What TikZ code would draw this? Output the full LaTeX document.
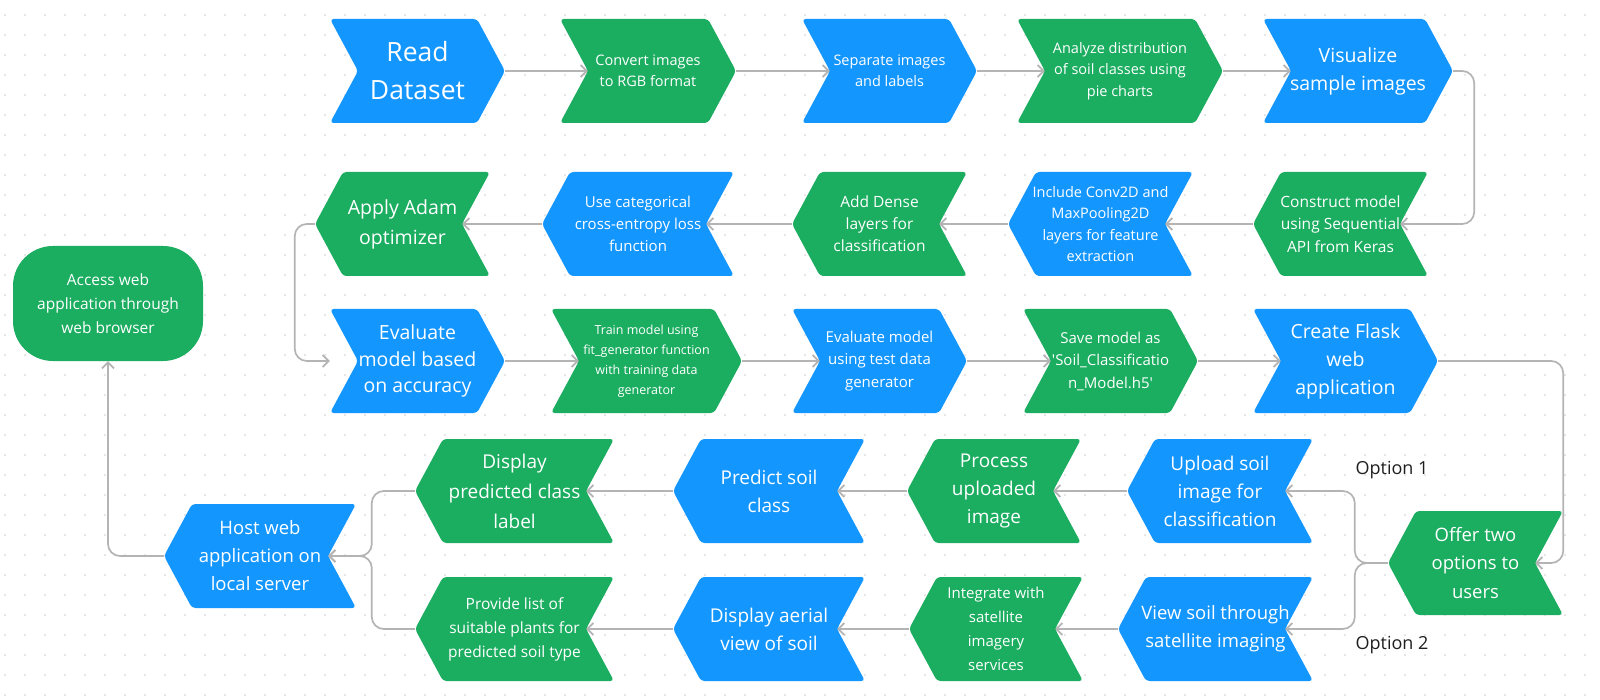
\documentclass[tikz,border=0pt]{standalone}
\usepackage{fontspec}
\setmainfont{Open Sans}
\usetikzlibrary{arrows.meta}
\definecolor{cblue}{RGB}{20,150,255}
\definecolor{cgreen}{RGB}{27,173,96}
\definecolor{cline}{RGB}{180,180,180}
\definecolor{cdot}{RGB}{205,205,205}
\newcommand\fz[2]{\fontsize{#1}{#2}\selectfont}
% right-pointing chevron: name, L, R, cy, colour, size, leading, text
\newcommand\chevR[8]{%
  \fill[#5,rounded corners=3.5pt] (#2,#4-52) -- ({#3-28},#4-52) -- (#3,#4) -- ({#3-28},#4+52) -- (#2,#4+52) -- ({#2+28},#4) -- cycle;
  \node[txt,minimum width={#3-#2},minimum height=104,font=\fz{#6}{#7}] (#1) at ({(#2+#3)/2},#4) {#8};
}
% left-pointing chevron
\newcommand\chevL[8]{%
  \fill[#5,rounded corners=3.5pt] ({#2+28},#4-52) -- (#3,#4-52) -- ({#3-28},#4) -- (#3,#4+52) -- ({#2+28},#4+52) -- (#2,#4) -- cycle;
  \node[txt,minimum width={#3-#2},minimum height=104,font=\fz{#6}{#7}] (#1) at ({(#2+#3)/2},#4) {#8};
}
\begin{document}
\begin{tikzpicture}[x=1pt,y=-1pt,
  txt/.style={inner sep=0pt,text=white,align=center},
  conn/.style={draw=cline,line width=1.7pt,rounded corners=12pt,-{Straight Barb[length=6pt,width=12pt]}},
  lbl/.style={font=\fz{18}{22},text=black!88}]
\useasboundingbox (0,0) rectangle (1600,700);
\fill[white] (0,0) rectangle (1600,700);
\foreach \i in {0,...,79}{\foreach \j in {0,...,34}{\fill[cdot] ({5+20*\i},{15+20*\j}) circle[radius=0.9pt];}}

% row 1
\chevR{read}{330}{505}{71}{cblue}{26.5}{38}{Read\\Dataset}
\chevR{conv}{560}{736}{71}{cgreen}{14.5}{21.5}{Convert images\\to RGB format}
\chevR{sep}{802}{977}{71}{cblue}{14.5}{21.5}{Separate images\\and labels}
\chevR{ana}{1017}{1223}{71}{cgreen}{14.5}{21.5}{Analyze distribution\\of soil classes using\\pie charts}
\chevR{vis}{1263}{1453}{71}{cblue}{19.5}{28}{Visualize\\sample images}
% row 2
\chevL{cons}{1253}{1428}{224}{cgreen}{15.5}{22.5}{Construct model\\using Sequential\\API from Keras}
\chevL{incl}{1008}{1193}{224}{cblue}{14.5}{21.5}{Include Conv2D and\\MaxPooling2D\\layers for feature\\extraction}
\chevL{dense}{792}{967}{224}{cgreen}{15.5}{22}{Add Dense\\layers for\\classification}
\chevL{cat}{542}{734}{224}{cblue}{15}{22}{Use categorical\\cross-entropy loss\\function}
\chevL{adam}{315}{490}{224}{cgreen}{19.5}{30}{Apply Adam\\optimizer}
% row 3
\chevR{evacc}{330}{505}{361}{cblue}{19.5}{26.5}{Evaluate\\model based\\on accuracy}
\chevR{train}{551}{742}{361}{cgreen}{12.5}{20}{Train model using\\fit\_generator function\\with training data\\generator}
\chevR{evtest}{792}{967}{361}{cblue}{15}{22.5}{Evaluate model\\using test data\\generator}
\chevR{save}{1023}{1198}{361}{cgreen}{15}{22.5}{Save model as\\\textquotesingle Soil\_Classificatio\\n\_Model.h5\textquotesingle}
\chevR{flask}{1253}{1438}{361}{cblue}{19.5}{28}{Create Flask\\web\\application}
% row 4
\chevL{upload}{1127}{1313}{491}{cblue}{19}{28}{Upload soil\\image for\\classification}
\chevL{proc}{907}{1081}{491}{cgreen}{19}{28}{Process\\uploaded\\image}
\chevL{pred}{673}{865}{491}{cblue}{19}{28}{Predict soil\\class}
\chevL{disp}{415}{614}{491}{cgreen}{19}{30}{Display\\predicted class\\label}
\chevL{host}{164}{356}{556}{cblue}{18.5}{28}{Host web\\application on\\local server}
\chevL{offer}{1388}{1563}{563}{cgreen}{18.5}{28.5}{Offer two\\options to\\users}
% row 5
\chevL{view}{1118}{1313}{629}{cblue}{18.5}{28}{View soil through\\satellite imaging}
\chevL{integ}{909}{1083}{629}{cgreen}{15}{24}{Integrate with\\satellite\\imagery\\services}
\chevL{aerial}{673}{865}{629}{cblue}{19}{28}{Display aerial\\view of soil}
\chevL{plants}{415}{614}{629}{cgreen}{15.5}{24}{Provide list of\\suitable plants for\\predicted soil type}

\node[txt,fill=cgreen,rounded corners=40pt,minimum width=190,minimum height=115,font=\fz{15.5}{24}] (access) at (108,303.5) {Access web\\application through\\web browser};

\node[lbl] (opt1) at (1392,470) {Option 1};
\node[lbl] (opt2) at (1392,645) {Option 2};

% connectors
\draw[conn] (read.east) -- ([xshift=28pt]conv.west);
\draw[conn] (conv.east) -- ([xshift=28pt]sep.west);
\draw[conn] (sep.east) -- ([xshift=28pt]ana.west);
\draw[conn] (ana.east) -- ([xshift=28pt]vis.west);
\draw[conn] (vis.east) -- ++(21,0) |- ([xshift=-28pt]cons.east);
\draw[conn] (cons.west) -- ([xshift=-28pt]incl.east);
\draw[conn] (incl.west) -- ([xshift=-28pt]dense.east);
\draw[conn] (dense.west) -- ([xshift=-28pt]cat.east);
\draw[conn] (cat.west) -- ([xshift=-28pt]adam.east);
\draw[conn] (adam.west) -- ++(-20,0) |- (evacc.west);
\draw[conn] (evacc.east) -- ([xshift=28pt]train.west);
\draw[conn] (train.east) -- ([xshift=28pt]evtest.west);
\draw[conn] (evtest.east) -- ([xshift=28pt]save.west);
\draw[conn] (save.east) -- ([xshift=28pt]flask.west);
\draw[conn] (flask.east) -- (flask.east -| offer.east) |- ([xshift=-28pt]offer.east);
\draw[conn] (offer.west) -- ++(-33,0) |- ([xshift=-28pt]upload.east);
\draw[conn] (offer.west) -- ++(-33,0) |- ([xshift=-28pt]view.east);
\draw[conn] (upload.west) -- ([xshift=-28pt]proc.east);
\draw[conn] (proc.west) -- ([xshift=-28pt]pred.east);
\draw[conn] (pred.west) -- ([xshift=-28pt]disp.east);
\draw[conn] (view.west) -- ([xshift=-28pt]integ.east);
\draw[conn] (integ.west) -- ([xshift=-28pt]aerial.east);
\draw[conn] (aerial.west) -- ([xshift=-28pt]plants.east);
\draw[conn] (disp.west) -- ++(-43,0) |- ([xshift=-28pt]host.east);
\draw[conn] (plants.west) -- ++(-43,0) |- ([xshift=-28pt]host.east);
\draw[conn] (host.west) -| (access.south);
\end{tikzpicture}
\end{document}
